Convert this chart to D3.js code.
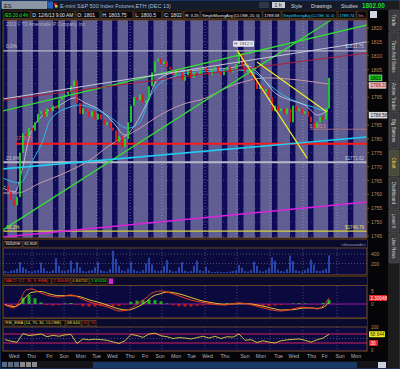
<!DOCTYPE html>
<html><head><meta charset="utf-8">
<script src="https://cdn.jsdelivr.net/npm/d3@7"></script>
<style>html,body{margin:0;padding:0;background:#000;overflow:hidden}svg{display:block}text{font-family:"Liberation Sans",Arial,sans-serif}</style>
</head><body><svg id="c" width="400" height="369"></svg>
<script>
// ---------- DATA ----------
const closes = [1763,1761,1758,1756,1759,1775,1782,1781,1784,1783,1786,1789,1790,1788,1791,1790,1792,1791,1794,1795,
1796,1797,1799,1801,1793,1789,1791,1790,1788,1790,1787,1789,1787,1785,1786,1784,1783,1779,1781,1777,
1780,1786,1792,1795,1794,1796,1793,1794,1799,1804,1808,1809,1807,1808,1806,1805,1803,1805,1804,1801,
1803,1805,1802,1804,1803,1805,1806,1804,1803,1805,1806,1804,1803,1805,1806,1804,1805,1807,1811,1806,
1804,1805,1803,1801,1798,1799,1797,1798,1795,1790,1792,1790,1791,1789,1791,1786,1792,1790,1791,1789,
1790,1788,1786,1784,1786,1788,1787,1791,1802];
const volumes = [40,30,50,60,90,230,120,80,40,30,50,60,220,100,40,30,60,310,150,50,
40,70,260,90,230,120,40,30,50,60,120,230,60,40,30,80,470,300,150,60,
40,90,230,70,40,30,60,200,320,180,60,40,50,150,270,60,30,40,120,230,
50,30,40,150,260,60,40,130,50,20,20,30,20,20,20,30,40,60,170,110,
40,30,60,240,150,40,30,60,100,330,260,70,40,30,80,370,250,60,40,30,
60,100,280,180,50,40,60,90,370];
// moving averages: [bar index, price]
const smaFast = [[-0.7,1762.3],[3.3,1760.9],[5.7,1768.8],[8.3,1781.4],[12.7,1788.6],[18.3,1792.2],[23.3,1794.8],[26.7,1793.0],[31.7,1790.4],[36,1786.1],[40,1781.4],[43.3,1785.0],[47.3,1793.0],[50.7,1801.2],[56,1803.8],[65,1804.9],[75,1805.6],[80,1806.7],[85,1803.1],[90,1796.6],[95,1794.0],[100,1792.2],[104.3,1788.6],[107.7,1790.4]];
const smaMid = [[-0.7,1765.9],[5,1764.1],[9.3,1772.4],[12.7,1779.6],[15,1786.8],[21.7,1791.5],[25,1792.2],[28.3,1791.5],[35,1787.9],[40.7,1783.9],[45,1786.1],[48.3,1795.1],[51.7,1800.2],[56,1802.3],[60.7,1803.8],[65,1804.1],[76,1804.9],[82.7,1804.1],[87.3,1800.2],[92.7,1795.8],[98.3,1793.0],[102.7,1791.5],[106,1790.4],[107.7,1791.2]];
const smaSlow = [[-0.7,1760.5],[4,1760.5],[11.7,1764.1],[20.7,1768.1],[28.3,1772.4],[35,1777.8],[45,1783.9],[51.7,1788.6],[60.7,1793.0],[65,1794.0],[76,1799.4],[87.3,1802.0],[98.3,1801.2],[107.7,1799.8]];
// drawn trendlines: [idx1, price1, idx2, price2, colour, width]
const trendlines = [
  [-0.7,1790.1,120.7,1821.1,"#33dd33",1.3],
  [-0.7,1747.2,108.7,1822.9,"#33dd33",1.3],
  [-0.7,1794.4,120.7,1815.0,"#c8c8d8",1],
  [-0.7,1794.0,120.7,1811.0,"#b0203a",1],
  [-0.7,1769.2,120.7,1780.7,"#22ccee",1.6],
  [-0.7,1744.6,120.7,1757.3,"#dd22dd",1.5],
  [77.3,1812.1,100.7,1773.1,"#eeee22",1.2],
  [84.0,1807.7,107.3,1789.7,"#eeee22",1.2]
];
const fibLevels = [1811.75,1771.62,1746.76];
const fibLabels = ["0.0%","23.6%","38.2%"];
const fibPriceLabels = ["$1811.75","$1771.62","$1746.76"];
const redLevel = 1778.25;
const brownLevel = 1783.5;
const priceTicks = [1820,1815,1810,1805,1800,1795,1790,1785,1780,1775,1770,1765,1760,1755,1750,1745];
// MACD: [bar index, value]
const macdLine = [[0,-0.4],[3,-1.5],[5,1.5],[7,5.4],[9,5.8],[12,4.2],[15,3.1],[18,2.7],[22,3.5],[25,2.3],[28,0.8],[32,-0.4],[35,-1.5],[38,-2.7],[41,-2.3],[44,0],[47,2.3],[49,4.2],[52,5.0],[54,4.6],[58,3.1],[62,1.5],[65,0.8],[69,0],[73,-0.4],[78,0.4],[81,0],[85,-1.2],[89,-2.3],[92,-2.7],[96,-1.9],[99,-1.2],[102,-1.5],[104,-1.9],[106,-0.8],[108,2.3]];
const macdSignal = [[0,-0.2],[3,-1.0],[5,0.0],[7,2.8],[9,4.5],[12,4.8],[15,3.8],[18,3.2],[22,3.2],[25,2.8],[28,1.6],[32,0.4],[35,-0.8],[38,-1.9],[41,-2.3],[44,-1.2],[47,0.8],[49,2.8],[52,4.0],[54,4.6],[58,3.9],[62,2.5],[65,1.4],[69,0.5],[73,-0.1],[78,0.1],[81,0.1],[85,-0.6],[89,-1.6],[92,-2.3],[96,-2.2],[99,-1.6],[102,-1.5],[104,-1.7],[106,-1.3],[108,0.6]];
const macdHist = [-0.3,-0.8,-0.6,2.5,3.5,2.2,0.6,-0.4,-0.6,-0.4,0.2,0.4,-0.3,-0.9,-1.0,-1.0,-0.8,-0.7,-0.9,-0.8,-0.2,0.8,1.3,1.5,1.6,1.5,1.0,0.2,-0.5,-0.9,-1.0,-1.0,-0.7,-0.5,-0.3,-0.2,0.1,0.3,0.4,0.5,0.1,-0.3,-0.6,-0.7,-0.8,-0.6,-0.4,-0.1,0.2,0.3,0.2,-0.1,-0.2,0.4,1.6]; // every 2nd bar
const rsi = [45,38,33,72,63,66,70,58,64,60,66,68,28,48,44,47,45,42,35,28,40,68,63,55,70,74,62,58,50,54,52,48,54,60,52,60,50,58,56,70,42,45,32,40,34,30,40,44,46,48,42,34,44,52,68.6]; // every 2nd bar
const dayLabels = ["Wed","Thu","Fri","Sun","Mon","Tue","Wed","Thu","Fri","Sun","Mon","Tue","Wed","Thu","Sun","Mon","Tue","Wed","Thu","Fri","Sun","Mon"];
const dayPos = [3,8.8,14.8,19.7,25.3,30.5,35.8,41.7,46.7,51.7,57,62.2,67.5,73.3,80,85.3,91.2,96.3,102.2,106.5,111.7,117];
const nightStripes = [-1,4,9.3,16,20,24,30.7,35.7,41,47.7,54,60,66,72.3,77.7,83.3,89,95,101,107.7,114.3];
const gridIdx = [9,19.7,30.7,41.7,52.3,66.7,77.3,88.3,99.3,110.7];
const sideTabs = ["Trade","Time And Sales","Active Trader","Big Buttons","Chart","Dashboard","Level II","Live News"];
const sideTabY = [10,32,82,112,150,177,210,233];
const sideTabH = [21,49,29,37,26,32,22,30];

// ---------- DRAW ----------
const svg = d3.select("#c");
const PX0 = 3, PX1 = 367;
const x = d3.scaleLinear().domain([0,108]).range([5,329]);
const yP = d3.scaleLinear().domain([1745,1820]).range([236,28]);
const yV = d3.scaleLinear().domain([0,400]).range([273,254]);
const yM = d3.scaleLinear().domain([0,5]).range([304,291]);
const yR = d3.scaleLinear().domain([0,100]).range([349.75,327.25]);
const border = "#7a5326";

function fitText(sel, maxW){
  const n = sel.node(); let fs = +sel.attr("font-size");
  while(n.getComputedTextLength() > maxW && fs > 2){ fs -= 0.2; sel.attr("font-size",fs); }
  return sel;
}
function labelBox(parent, txt, bx, by, w, h, col, fs){
  parent.append("rect").attr("x",bx).attr("y",by).attr("width",w).attr("height",h).attr("fill","#07070f").attr("stroke",border).attr("stroke-width",0.6);
  fitText(parent.append("text").attr("x",bx+1.2).attr("y",by+h-1.6).attr("font-size",fs).attr("fill",col).text(txt), w-2.4);
}

svg.append("rect").attr("width",400).attr("height",369).attr("fill","#050508");
// top toolbar
svg.append("rect").attr("x",0).attr("y",0).attr("width",400).attr("height",10).attr("fill","#141c2c");
svg.append("rect").attr("x",2).attr("y",1.5).attr("width",45).attr("height",7).attr("fill","#8a96a6").attr("stroke","#c0c8d0").attr("stroke-width",0.5);
svg.append("text").attr("x",4).attr("y",7.5).attr("font-size",5.5).attr("fill","#202020").text("ES");
svg.append("rect").attr("x",48).attr("y",1.5).attr("width",5).attr("height",7).attr("fill","#2860c0");
svg.append("rect").attr("x",54).attr("y",3).attr("width",2.5).attr("height",2.5).attr("fill","#e02020");
svg.append("rect").attr("x",55).attr("y",5).attr("width",2.5).attr("height",2.5).attr("fill","#e0d020");
svg.append("text").attr("x",60).attr("y",7.5).attr("font-size",5.5).attr("fill","#a8b8d0").text("E-mini S&P 500 Index Futures,ETH (DEC 13)");
svg.append("rect").attr("x",259).attr("y",2).attr("width",10).attr("height",6).attr("fill","#303848");
svg.append("rect").attr("x",272).attr("y",2).attr("width",13).attr("height",6).attr("fill","#c8ccd4");
svg.append("text").attr("x",274.5).attr("y",7).attr("font-size",5).attr("fill","#202020").text("1 h");
[["Style",291],["Drawings",311],["Studies",341]].forEach(d=>{
  svg.append("text").attr("x",d[1]).attr("y",7.5).attr("font-size",5).attr("fill","#d8d8d8").text(d[0]);
});
svg.append("text").attr("x",362).attr("y",8).attr("font-size",6.3).attr("font-weight","bold").attr("fill","#22dd22").text("1802.00");
svg.append("text").attr("x",389).attr("y",4.5).attr("font-size",3.2).attr("fill","#22dd22").text("+0.00");
svg.append("text").attr("x",389).attr("y",8.5).attr("font-size",3.2).attr("fill","#22dd22").text("+0.1%");

// info row
const info = [["/ES 20 d 4h",3,27,"#22ee22"],["D: 12/6/13 9:00 AM",31,44,"#e8e8e8"],["O: 1801",76,24,"#e8e8e8"],["H: 1803.75",101,32,"#e8e8e8"],["L: 1800.5",134,28,"#e8e8e8"],["C: 1802",163,20,"#e8e8e8"],["R: 3.25",184,16,"#e8e8e8"],["SimpleMovingAvg (CLOSE, 20, 0)",201,61,"#e8e8e8"],["1788.58",263,18,"#e8e8e8"],["SimpleMovingAvg (CLOSE, 50, 0)",282,55,"#22ddee"],["1789.74",338,18,"#22ddee"],["Sim...",357,10,"#f09090"]];
info.forEach(d=>labelBox(svg, d[0], d[1], 11, d[2], 7.5, d[3], 5));
svg.append("rect").attr("x",370).attr("y",11).attr("width",7).attr("height",7).attr("fill","#d0d8e8");

// price panel
const pp = svg.append("g");
pp.append("clipPath").attr("id","pclip").append("rect").attr("x",PX0).attr("y",20).attr("width",PX1-PX0).attr("height",218);
pp.append("rect").attr("x",PX0).attr("y",20).attr("width",PX1-PX0).attr("height",218).attr("fill","#5f5d92");
const pg = pp.append("g").attr("clip-path","url(#pclip)");
pg.selectAll("rect.st").data(nightStripes).join("rect").attr("x",d=>x(d)).attr("y",20).attr("width",x(1.8)-x(0)).attr("height",218).attr("fill","#0e0c58");
pg.selectAll("line.gv").data(gridIdx).join("line").attr("x1",d=>x(d)).attr("x2",d=>x(d)).attr("y1",20).attr("y2",238).attr("stroke","#b8b8d0").attr("stroke-width",0.5).attr("stroke-dasharray","1,2");
pg.selectAll("line.gh").data(priceTicks).join("line").attr("x1",PX0).attr("x2",PX1).attr("y1",d=>yP(d)).attr("y2",d=>yP(d)).attr("stroke","#8a88b0").attr("stroke-width",0.4).attr("stroke-dasharray","1,3");
svg.append("text").attr("x",6).attr("y",26).attr("font-size",4.5).attr("fill","#b0b0c8").text("2013 © TD Ameritrade IP Company, Inc.");
// fib levels
pg.selectAll("line.fib").data(fibLevels).join("line").attr("x1",PX0).attr("x2",PX1).attr("y1",d=>yP(d)).attr("y2",d=>yP(d)).attr("stroke",(d,i)=>i==2?"#d8d040":"#b8b8c8").attr("stroke-width",(d,i)=>i==1?2:1.2);
fibLabels.forEach((t,i)=>{pg.append("text").attr("x",6).attr("y",yP(fibLevels[i])-2.5).attr("font-size",4.8).attr("fill",i==2?"#e8e050":"#c8c8d8").text(t);});
fibPriceLabels.forEach((t,i)=>{pg.append("text").attr("x",345).attr("y",yP(fibLevels[i])-2.5).attr("font-size",4.6).attr("fill",i==2?"#e8e050":"#c8c8d8").text(t);});
// red & brown levels
pg.append("line").attr("x1",x(3.3)).attr("x2",PX1).attr("y1",yP(redLevel)).attr("y2",yP(redLevel)).attr("stroke","#ff1a1a").attr("stroke-width",2);
pg.append("text").attr("x",x(3.6)).attr("y",yP(redLevel)-3.5).attr("font-size",4.5).attr("fill","#ff5050").text("1778.25");
pg.append("line").attr("x1",x(101.7)).attr("x2",PX1).attr("y1",yP(brownLevel)).attr("y2",yP(brownLevel)).attr("stroke","#c07878").attr("stroke-width",0.8);
pg.append("text").attr("x",x(101.5)).attr("y",yP(brownLevel)-1.5).attr("font-size",4.5).attr("fill","#f08888").text("$1783.5");
// MAs
const maLine = d3.line().x(d=>x(d[0])).y(d=>yP(d[1])).curve(d3.curveMonotoneX);
pg.append("path").attr("d",maLine(smaSlow)).attr("fill","none").attr("stroke","#c89aa8").attr("stroke-width",1);
pg.append("path").attr("d",maLine(smaMid)).attr("fill","none").attr("stroke","#30b8e8").attr("stroke-width",1);
pg.append("path").attr("d",maLine(smaFast)).attr("fill","none").attr("stroke","#d0d0e0").attr("stroke-width",0.8);
// candles
const bars = closes.map((c,i)=>({i,o:i?closes[i-1]:c,c}));
pg.selectAll("rect.cd").data(bars).join("rect")
  .attr("x",d=>x(d.i)-0.9).attr("width",1.8)
  .attr("y",d=>yP(Math.max(d.o,d.c))).attr("height",d=>Math.max(1,Math.abs(yP(d.o)-yP(d.c))))
  .attr("fill",d=>d.c>=d.o?"#22d822":"#e81818");
// trendlines
pg.selectAll("line.tl").data(trendlines).join("line")
  .attr("x1",d=>x(d[0])).attr("y1",d=>yP(d[1])).attr("x2",d=>x(d[2])).attr("y2",d=>yP(d[3]))
  .attr("stroke",d=>d[4]).attr("stroke-width",d=>d[5]);
// high bubble
const hiIdx = closes.indexOf(d3.max(closes.slice(70)));
pg.append("rect").attr("x",x(hiIdx)-6).attr("y",yP(1812.5)-8).attr("width",21).attr("height",6).attr("fill","#e8e8f0").attr("rx",1);
pg.append("text").attr("x",x(hiIdx)-5).attr("y",yP(1812.5)-3.5).attr("font-size",4.3).attr("fill","#404060").text("H: 1812.5");
pp.append("rect").attr("x",PX0).attr("y",20).attr("width",PX1-PX0).attr("height",218).attr("fill","none").attr("stroke",border).attr("stroke-width",1);
// price axis
const boxes = [[1802,"1802","#10c010","#001000",13],[1799.31,"1799.31","#f0b4b4","#802020",17],[1788.58,"1788.58","#d8d8dc","#202020",18]];
priceTicks.forEach(t=>{
  svg.append("line").attr("x1",PX1).attr("x2",PX1+2).attr("y1",yP(t)).attr("y2",yP(t)).attr("stroke",border);
  const hidden = boxes.some(b=>Math.abs(yP(b[0])-yP(t))<6);
  if(!hidden) svg.append("text").attr("x",371).attr("y",yP(t)+2).attr("font-size",5).attr("fill","#b88a58").text(t);
});
boxes.forEach(b=>{
  svg.append("rect").attr("x",369).attr("y",yP(b[0])-3).attr("width",b[4]).attr("height",6).attr("fill",b[2]).attr("stroke","#ffffff").attr("stroke-width",0.4);
  svg.append("text").attr("x",370.5).attr("y",yP(b[0])+1.8).attr("font-size",4.6).attr("fill",b[3]).text(b[1]);
});

// volume panel
const VY0=240, VY1=275;
svg.append("rect").attr("x",PX0).attr("y",VY0).attr("width",PX1-PX0).attr("height",VY1-VY0).attr("fill","#0b0a3e").attr("stroke",border);
svg.append("rect").attr("x",PX0).attr("y",VY0).attr("width",PX1-PX0).attr("height",8).attr("fill","#0a0a2c");
svg.append("line").attr("x1",PX0).attr("x2",PX1).attr("y1",248).attr("y2",248).attr("stroke",border).attr("stroke-width",0.8);
labelBox(svg,"Volume",4,241.5,18,5.5,"#e0e0e0",4.5);
labelBox(svg,"82,808",23,241.5,15,5.5,"#e0e0e0",4.5);
svg.append("text").attr("x",341).attr("y",246).attr("font-size",4.3).attr("fill","#a0a0b8").text("<thousands>");
[400,200].forEach(t=>{
  svg.append("line").attr("x1",PX0).attr("x2",PX1).attr("y1",yV(t)).attr("y2",yV(t)).attr("stroke","#8888aa").attr("stroke-width",0.5).attr("stroke-dasharray","1,2");
  svg.append("text").attr("x",371).attr("y",yV(t)+2).attr("font-size",5).attr("fill","#b88a58").text(t);
});
svg.selectAll("line.gvv").data(gridIdx).join("line").attr("x1",d=>x(d)).attr("x2",d=>x(d)).attr("y1",249).attr("y2",274).attr("stroke","#8888aa").attr("stroke-width",0.5).attr("stroke-dasharray","1,2");
svg.selectAll("rect.vb").data(volumes).join("rect").attr("x",(d,i)=>x(i)-0.9).attr("width",1.8).attr("y",d=>yV(d)).attr("height",d=>yV(0)-yV(d)).attr("fill","#2c4cb8");

// MACD panel
const MY0=277, MY1=318;
svg.append("rect").attr("x",PX0).attr("y",MY0).attr("width",PX1-PX0).attr("height",MY1-MY0).attr("fill","#0b0a3e").attr("stroke",border);
svg.selectAll("line.gvm").data(gridIdx).join("line").attr("x1",d=>x(d)).attr("x2",d=>x(d)).attr("y1",286).attr("y2",MY1).attr("stroke","#8888aa").attr("stroke-width",0.5).attr("stroke-dasharray","1,2");
svg.append("line").attr("x1",PX0).attr("x2",PX1).attr("y1",yM(0)).attr("y2",yM(0)).attr("stroke","#c020c0").attr("stroke-width",0.8);
svg.selectAll("rect.mh").data(macdHist).join("rect").attr("x",(d,i)=>x(i*2)-1.5).attr("width",3)
  .attr("y",d=>d>=0?yM(d):yM(0)).attr("height",d=>Math.abs(yM(d)-yM(0))).attr("fill",d=>d>=0?"#20b020":"#c01818");
const mLine = d3.line().x(d=>x(d[0])).y(d=>yM(d[1])).curve(d3.curveMonotoneX);
svg.append("path").attr("d",mLine(macdSignal)).attr("fill","none").attr("stroke","#e8c030").attr("stroke-width",1);
svg.append("path").attr("d",mLine(macdLine)).attr("fill","none").attr("stroke","#e83c20").attr("stroke-width",1);
svg.append("rect").attr("x",PX0).attr("y",MY0).attr("width",PX1-PX0).attr("height",8).attr("fill","#0a0a2c");
[["MACD (12, 26, 9, EMA)",4,47,"#ff3030"],["2.30048",52,18,"#ff3030"],["0.84732",71,18,"#e8c030"],["1.65316",90,18,"#22ee22"]].forEach(d=>labelBox(svg,d[0],d[1],278.5,d[2],5.5,d[3],4.5));
svg.append("rect").attr("x",109).attr("y",278.5).attr("width",4).attr("height",5.5).attr("fill","#e020e0");
svg.append("line").attr("x1",PX0).attr("x2",PX1).attr("y1",285.5).attr("y2",285.5).attr("stroke",border).attr("stroke-width",0.8);
[[5,"5"],[0,"0"]].forEach(t=>svg.append("text").attr("x",371).attr("y",yM(t[0])+2).attr("font-size",5).attr("fill","#b88a58").text(t[1]));
svg.append("rect").attr("x",369).attr("y",yM(2.3)-3).attr("width",18).attr("height",6).attr("fill","#e82020").attr("rx",1);
svg.append("text").attr("x",370.5).attr("y",yM(2.3)+1.8).attr("font-size",4.6).attr("fill","#ffffff").text("2.30048");

// RSI panel
const RY0=319, RY1=351;
svg.append("rect").attr("x",PX0).attr("y",RY0).attr("width",PX1-PX0).attr("height",RY1-RY0).attr("fill","#0b0a3e").attr("stroke",border);
svg.selectAll("line.gvr").data(gridIdx).join("line").attr("x1",d=>x(d)).attr("x2",d=>x(d)).attr("y1",327).attr("y2",RY1).attr("stroke","#8888aa").attr("stroke-width",0.5).attr("stroke-dasharray","1,2");
[70,30].forEach(t=>svg.append("line").attr("x1",PX0).attr("x2",PX1).attr("y1",yR(t)).attr("y2",yR(t)).attr("stroke","#d0205a").attr("stroke-width",1.2));
svg.append("line").attr("x1",PX0).attr("x2",PX1).attr("y1",yR(50)).attr("y2",yR(50)).attr("stroke","#8888aa").attr("stroke-width",0.5).attr("stroke-dasharray","1,2");
svg.append("path").attr("d",d3.line().x((d,i)=>x(i*2)).y(d=>yR(d))(rsi)).attr("fill","none").attr("stroke","#e0d040").attr("stroke-width",0.9);
svg.append("rect").attr("x",PX0).attr("y",RY0).attr("width",PX1-PX0).attr("height",8).attr("fill","#0a0a2c");
[["RSI_EMA (14, 70, 30, CLOSE)",4,61,"#e8e050"],["68.644",66,15,"#e8e050"],["30",82,6,"#ff3030"],["70",89,7,"#ff3030"]].forEach(d=>labelBox(svg,d[0],d[1],320.5,d[2],5.5,d[3],4.5));
svg.append("line").attr("x1",PX0).attr("x2",PX1).attr("y1",327).attr("y2",327).attr("stroke",border).attr("stroke-width",0.8);
svg.append("text").attr("x",371).attr("y",yR(100)+2).attr("font-size",4.5).attr("fill","#b88a58").text("100");
svg.append("text").attr("x",371).attr("y",yR(0)+2).attr("font-size",4.5).attr("fill","#b88a58").text("0");
svg.append("rect").attr("x",369).attr("y",yR(68.644)-3).attr("width",16).attr("height",6).attr("fill","#f0f020").attr("rx",1);
svg.append("text").attr("x",370.3).attr("y",yR(68.644)+1.8).attr("font-size",4.6).attr("fill","#202000").text("68.644");
svg.append("rect").attr("x",369).attr("y",yR(30)-3).attr("width",9).attr("height",6).attr("fill","#e82020").attr("rx",1);
svg.append("text").attr("x",370.5).attr("y",yR(30)+1.8).attr("font-size",4.6).attr("fill","#ffffff").text("30");

// day axis
dayLabels.forEach((t,i)=>svg.append("text").attr("x",x(dayPos[i])).attr("y",358).attr("text-anchor","middle").attr("font-size",5.2).attr("fill","#b0b0b8").text(t));

// bottom bar
svg.append("rect").attr("x",0).attr("y",361).attr("width",388).attr("height",8).attr("fill","#141418");
[2,8,14,20,26,32].forEach((bx,i)=>svg.append("rect").attr("x",bx).attr("y",362).attr("width",5).attr("height",5).attr("fill",i<3?"#5a6a80":"#8a8a8a"));
svg.append("rect").attr("x",93).attr("y",362).attr("width",264).attr("height",6).attr("fill","#1a3a66");
svg.append("rect").attr("x",378).attr("y",362).attr("width",8).attr("height",6).attr("fill","#c8d0e0");

// sidebar
svg.append("rect").attr("x",388).attr("y",0).attr("width",12).attr("height",369).attr("fill","#1c1c1c");
sideTabs.forEach((t,i)=>{
  svg.append("rect").attr("x",389).attr("y",sideTabY[i]).attr("width",10).attr("height",sideTabH[i]).attr("fill",t=="Chart"?"#4a4a3a":"#3a3a3e").attr("stroke","#606060").attr("stroke-width",0.5).attr("rx",1);
  svg.append("text").attr("transform",`translate(392,${sideTabY[i]+sideTabH[i]/2}) rotate(90)`).attr("text-anchor","middle").attr("font-size",4.6).attr("fill",t=="Chart"?"#f0d040":"#d8d8d8").text(t);
});
svg.append("rect").attr("x",0).attr("y",0).attr("width",400).attr("height",369).attr("fill","none").attr("stroke","#1a4a9a").attr("stroke-width",1);
</script></body></html>
